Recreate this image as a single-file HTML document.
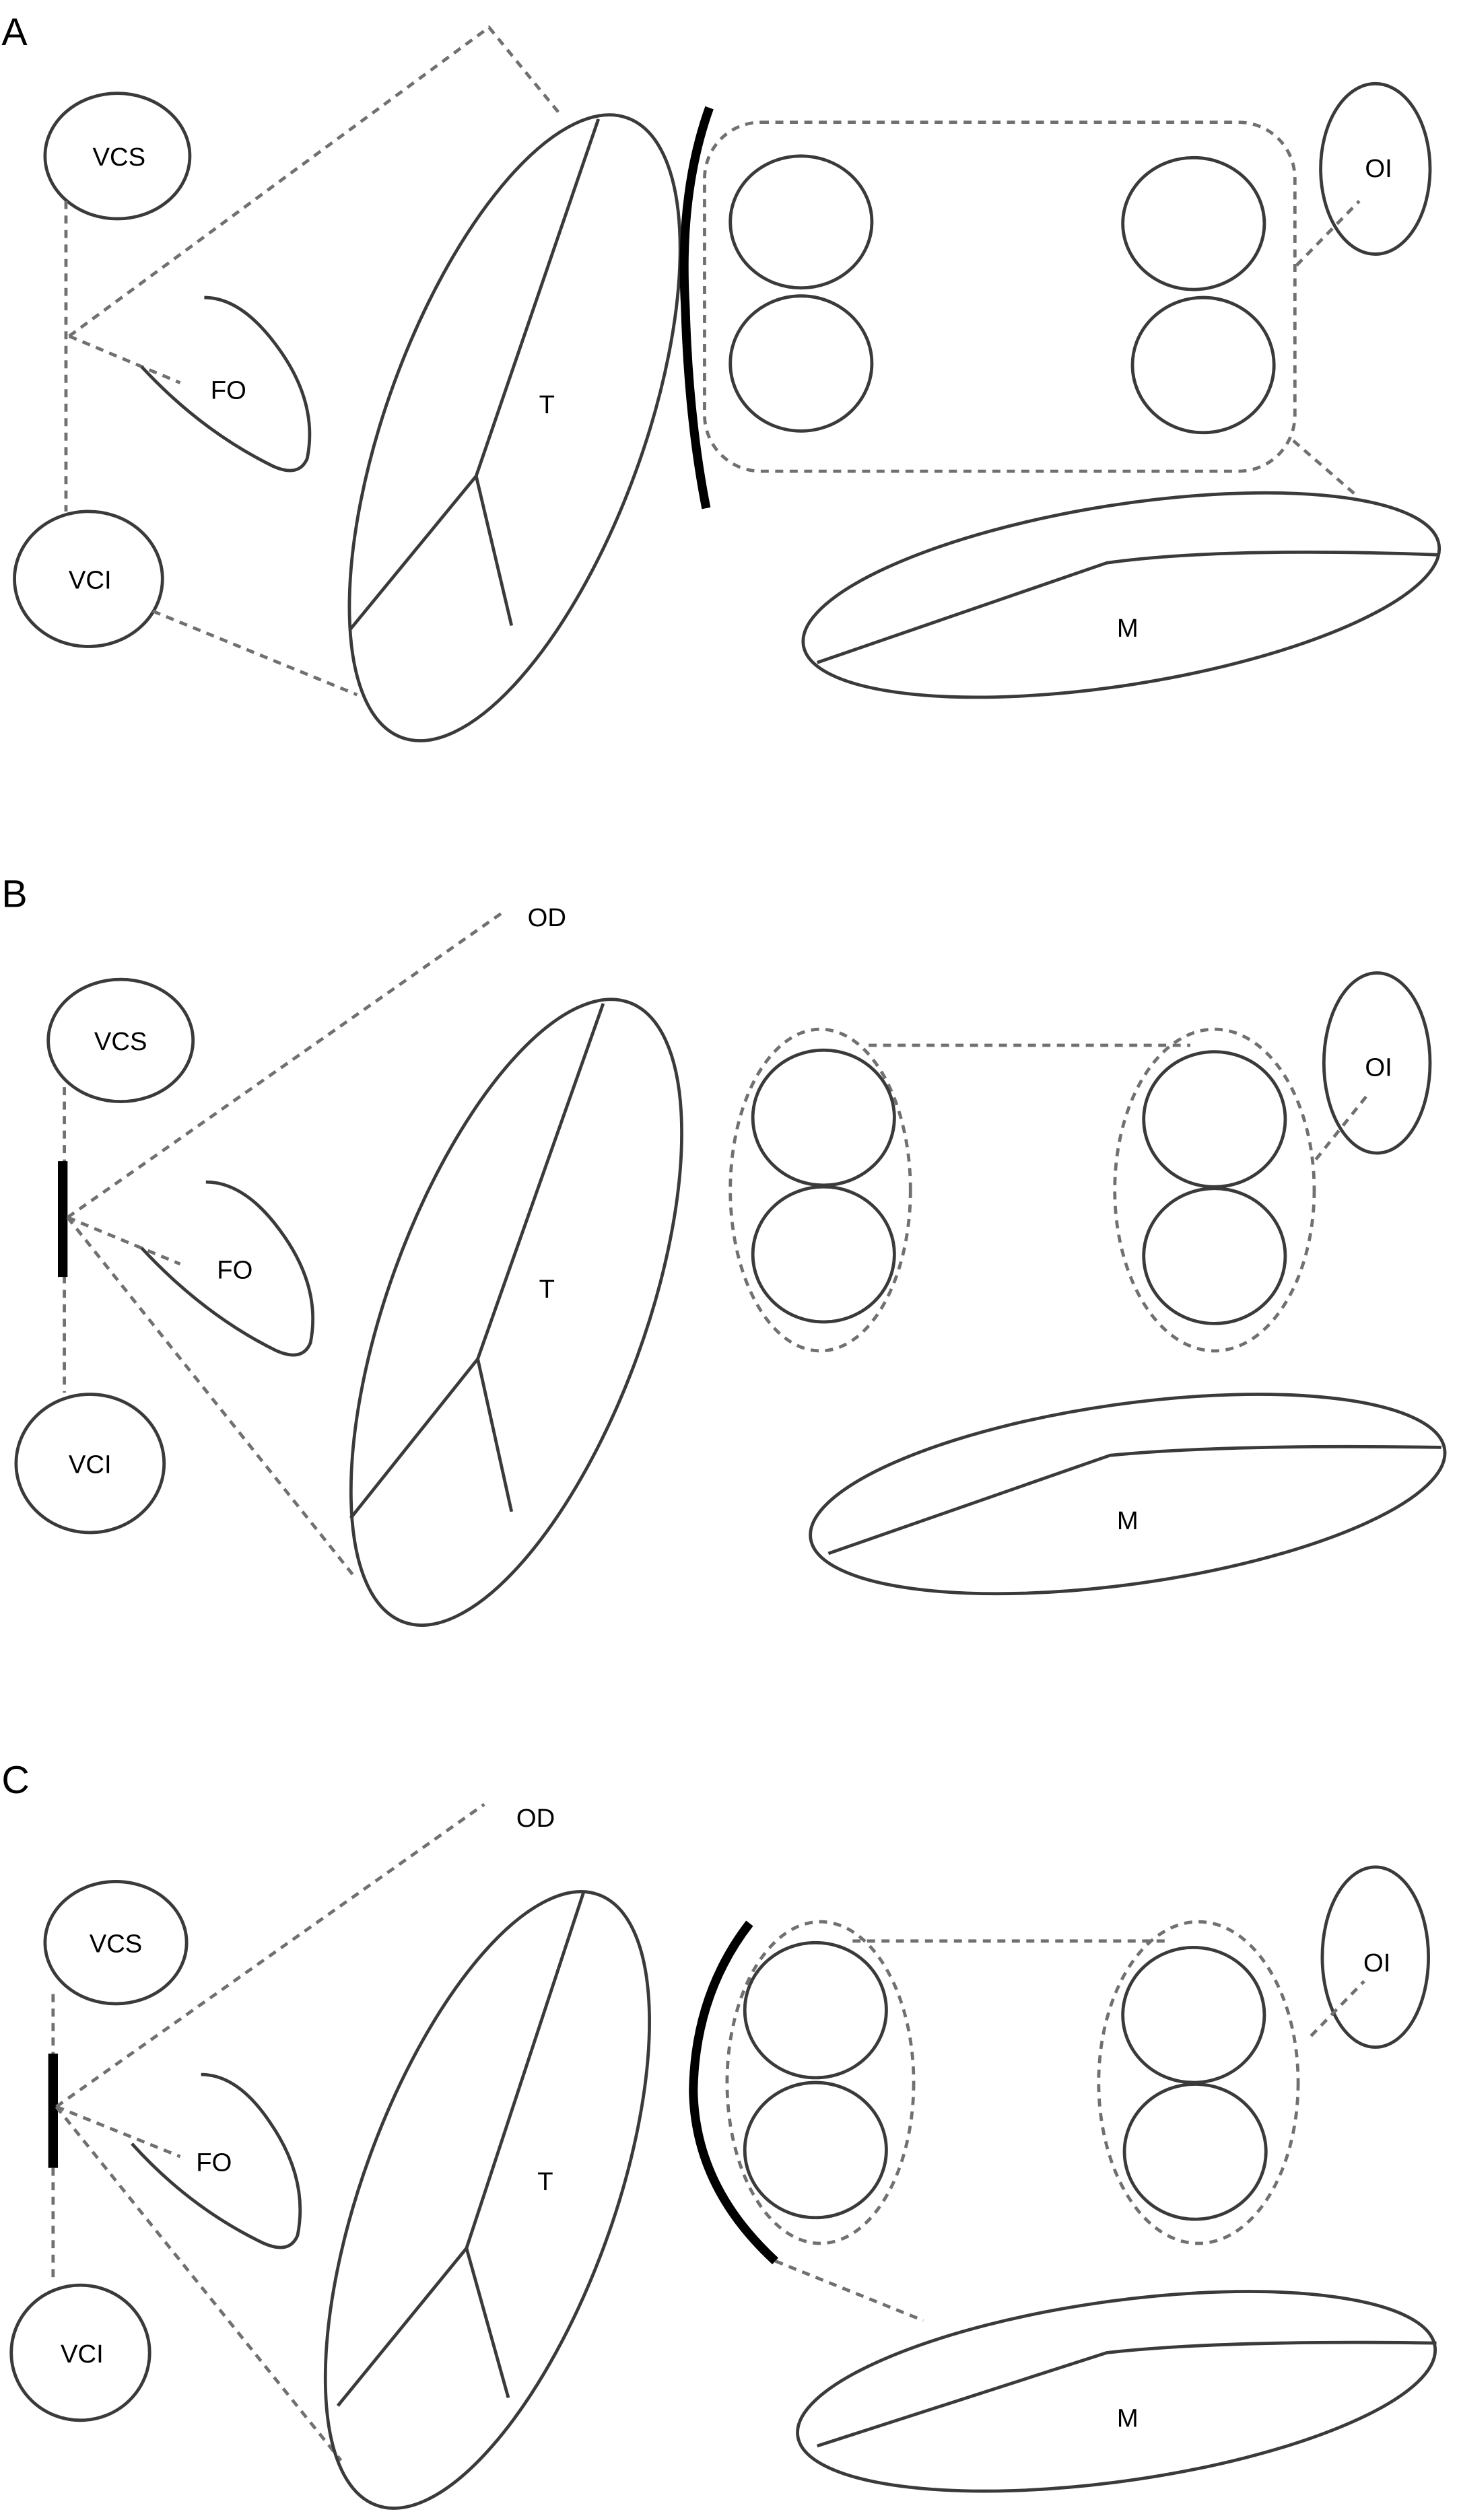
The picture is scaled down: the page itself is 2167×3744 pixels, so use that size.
<!DOCTYPE html>
<html><head><meta charset="utf-8"><style>
html,body{margin:0;padding:0;background:#fff;}
svg{display:block;}
text{font-family:"Liberation Sans",sans-serif;fill:#000;}
</style></head><body>
<svg width="2167" height="3744" viewBox="0 0 907 1567" xmlns="http://www.w3.org/2000/svg">
<defs>
<style>
.s{fill:none;stroke:#3a3a3a;stroke-width:2;}
.d{fill:none;stroke:#707070;stroke-width:2;stroke-dasharray:5,4;}
.b{fill:none;stroke:#000;stroke-width:5.5;stroke-linecap:butt;}
.l{font-size:16px;text-anchor:middle;}
.p{font-size:24px;}
</style>
</defs>

<!-- ===== Panel A ===== -->
<text class="p" x="1" y="28">A</text>
<ellipse class="s" cx="73" cy="97" rx="45" ry="39"/>
<text class="l" x="74" y="103">VCS</text>
<ellipse class="s" cx="55" cy="360" rx="46" ry="42"/>
<text class="l" x="56" y="366">VCI</text>
<line class="d" x1="41" y1="125" x2="41" y2="318"/>
<polyline class="d" points="43,209 304,17 349,72"/>
<line class="d" x1="43" y1="209" x2="112" y2="238"/>
<line class="d" x1="95" y1="380" x2="222" y2="432"/>
<path class="s" d="M127,185 Q150,185 172,215 Q198,250 191,285 Q186,297 170,290 Q125,268 88,228"/>
<text class="l" x="142" y="248">FO</text>
<ellipse class="s" cx="320" cy="266" rx="80" ry="205" transform="rotate(20 320 266)"/>
<polyline class="s" points="372,74 296,296 218,391"/>
<line class="s" x1="296" y1="296" x2="318" y2="389"/>
<text class="l" x="340" y="257">T</text>
<path class="b" d="M441,67 Q422,120 426,190 Q428,260 439,316"/>
<rect class="d" x="438" y="76" width="367" height="217" rx="35"/>
<ellipse class="s" cx="498" cy="138" rx="44" ry="41"/>
<ellipse class="s" cx="498" cy="226" rx="44" ry="42"/>
<ellipse class="s" cx="742" cy="139" rx="44" ry="41"/>
<ellipse class="s" cx="748" cy="227" rx="44" ry="42"/>
<ellipse class="s" cx="855" cy="105" rx="34" ry="53"/>
<text class="l" x="857" y="110">OI</text>
<line class="d" x1="806" y1="165" x2="845" y2="125"/>
<line class="d" x1="804" y1="274" x2="842" y2="307"/>
<ellipse class="s" cx="697" cy="370" rx="200" ry="56" transform="rotate(-9 697 370)"/>
<path class="s" d="M508,412 L688,350 Q760,340 895,345"/>
<text class="l" x="701" y="396">M</text>

<!-- ===== Panel B ===== -->
<text class="p" x="1" y="564">B</text>
<ellipse class="s" cx="75" cy="647" rx="45" ry="38"/>
<text class="l" x="75" y="653">VCS</text>
<ellipse class="s" cx="56" cy="910" rx="46" ry="43"/>
<text class="l" x="56" y="916">VCI</text>
<line class="d" x1="40" y1="676" x2="40" y2="866"/>
<line class="b" x1="39" y1="722" x2="39" y2="794" style="stroke-width:6"/>
<line class="d" x1="42" y1="757" x2="313" y2="567"/>
<text class="l" x="340" y="576">OD</text>
<line class="d" x1="42" y1="757" x2="112" y2="786"/>
<line class="d" x1="42" y1="757" x2="220" y2="980"/>
<path class="s" d="M128,735 Q152,735 174,765 Q200,800 193,835 Q188,847 172,840 Q127,818 88,776"/>
<text class="l" x="146" y="795">FO</text>
<ellipse class="s" cx="321" cy="816" rx="80" ry="205" transform="rotate(20 321 816)"/>
<polyline class="s" points="375,624 297,845 218,944"/>
<line class="s" x1="297" y1="845" x2="318" y2="940"/>
<text class="l" x="340" y="807">T</text>
<line class="d" x1="540" y1="650" x2="740" y2="650"/>
<ellipse class="d" cx="510" cy="740" rx="56" ry="100"/>
<ellipse class="s" cx="512" cy="695" rx="44" ry="42"/>
<ellipse class="s" cx="512" cy="780" rx="44" ry="42"/>
<ellipse class="d" cx="755" cy="740" rx="62" ry="100"/>
<ellipse class="s" cx="755" cy="696" rx="44" ry="42"/>
<ellipse class="s" cx="755" cy="781" rx="44" ry="42"/>
<ellipse class="s" cx="856" cy="661" rx="33" ry="56"/>
<text class="l" x="857" y="669">OI</text>
<line class="d" x1="818" y1="721" x2="850" y2="681"/>
<ellipse class="s" cx="701" cy="929" rx="199" ry="56" transform="rotate(-8 701 929)"/>
<path class="s" d="M515,966 L690,905 Q760,898 896,900"/>
<text class="l" x="701" y="951">M</text>

<!-- ===== Panel C ===== -->
<text class="p" x="1" y="1115">C</text>
<ellipse class="s" cx="72" cy="1208" rx="44" ry="38"/>
<text class="l" x="72" y="1214">VCS</text>
<ellipse class="s" cx="50" cy="1463" rx="43" ry="42"/>
<text class="l" x="51" y="1469">VCI</text>
<line class="d" x1="33" y1="1240" x2="33" y2="1420"/>
<line class="b" x1="33" y1="1277" x2="33" y2="1348" style="stroke-width:6"/>
<line class="d" x1="35" y1="1310" x2="301" y2="1122"/>
<text class="l" x="333" y="1136">OD</text>
<line class="d" x1="35" y1="1310" x2="112" y2="1341"/>
<line class="d" x1="35" y1="1310" x2="212" y2="1530"/>
<path class="s" d="M125,1290 Q148,1290 168,1320 Q192,1355 185,1390 Q180,1402 164,1395 Q118,1373 82,1333"/>
<text class="l" x="133" y="1350">FO</text>
<ellipse class="s" cx="303" cy="1368" rx="78" ry="202" transform="rotate(20 303 1368)"/>
<polyline class="s" points="363,1176 290,1398 210,1496"/>
<line class="s" x1="290" y1="1398" x2="316" y2="1491"/>
<text class="l" x="339" y="1362">T</text>
<path class="b" d="M466,1196 Q432,1240 431,1300 Q432,1360 482,1406"/>
<line class="d" x1="482" y1="1406" x2="574" y2="1443"/>
<line class="d" x1="530" y1="1207" x2="728" y2="1207"/>
<ellipse class="d" cx="510" cy="1295" rx="58" ry="100"/>
<ellipse class="s" cx="507" cy="1250" rx="44" ry="42"/>
<ellipse class="s" cx="507" cy="1337" rx="44" ry="42"/>
<ellipse class="d" cx="745" cy="1295" rx="62" ry="100"/>
<ellipse class="s" cx="742" cy="1253" rx="44" ry="42"/>
<ellipse class="s" cx="743" cy="1338" rx="44" ry="42"/>
<ellipse class="s" cx="855" cy="1217" rx="33" ry="56"/>
<text class="l" x="856" y="1226">OI</text>
<line class="d" x1="815" y1="1266" x2="848" y2="1232"/>
<ellipse class="s" cx="694" cy="1487" rx="200" ry="56" transform="rotate(-8 694 1487)"/>
<path class="s" d="M508,1521 L688,1463 Q760,1455 893,1457"/>
<text class="l" x="701" y="1509">M</text>
</svg>
</body></html>
